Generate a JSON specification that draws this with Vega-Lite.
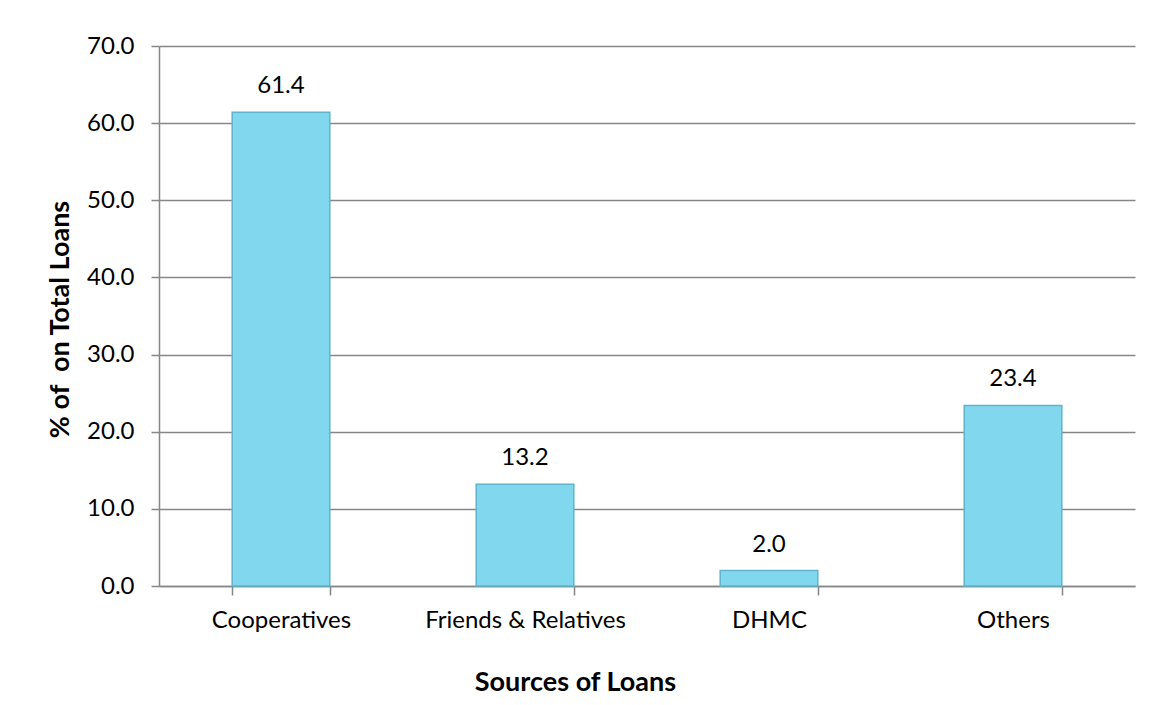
{
  "$schema": "https://vega.github.io/schema/vega-lite/v6.json",
  "autosize": {"type": "none"},
  "padding": {"left": 159, "top": 46, "right": 16, "bottom": 119},
  "width": 976,
  "height": 540,
  "background": "white",
  "data": {
    "values": [
      {"source": "Cooperatives", "pct": 61.4},
      {"source": "Friends & Relatives", "pct": 13.2},
      {"source": "DHMC", "pct": 2.0},
      {"source": "Others", "pct": 23.4}
    ]
  },
  "config": {
    "view": {"stroke": null},
    "font": "Lato"
  },
  "encoding": {
    "x": {
      "field": "source",
      "type": "nominal",
      "sort": null,
      "scale": {"paddingInner": 0.6, "paddingOuter": 0.3},
      "axis": {
        "title": "Sources of Loans",
        "titleFont": "Lato",
        "titleFontSize": 27,
        "titleFontWeight": "bold",
        "titleColor": "black",
        "titleX": 416,
        "titleY": 96,
        "titleBaseline": "middle",
        "titleAlign": "center",
        "labelAngle": 0,
        "labelFont": "Lato",
        "labelFontSize": 24,
        "labelColor": "black",
        "labelPadding": 13,
        "labelLimit": 0,
        "tickBand": "extent",
        "tickSize": 9,
        "tickColor": "#868686",
        "tickWidth": 1.5,
        "domainColor": "#868686",
        "domainWidth": 1.5,
        "grid": false
      }
    },
    "y": {
      "field": "pct",
      "type": "quantitative",
      "scale": {"domain": [0, 70], "nice": false},
      "axis": {
        "title": "% of\u00a0 on Total Loans",
        "titleFont": "Lato",
        "titleFontSize": 27,
        "titleFontWeight": "bold",
        "titleColor": "black",
        "titleX": -99,
        "titleY": 273,
        "titleBaseline": "middle",
        "titleAlign": "center",
        "titleAngle": 270,
        "values": [0, 10, 20, 30, 40, 50, 60, 70],
        "format": ".1f",
        "labelFont": "Lato",
        "labelFontSize": 24,
        "labelColor": "black",
        "labelPadding": 17,
        "tickSize": 8,
        "tickColor": "#868686",
        "tickWidth": 1.5,
        "domainColor": "#868686",
        "domainWidth": 1.5,
        "grid": true,
        "gridColor": "#868686",
        "gridWidth": 1.5
      }
    }
  },
  "layer": [
    {
      "mark": {"type": "bar", "fill": "#80d7ee", "stroke": "#5fb4cb", "strokeWidth": 1.5}
    },
    {
      "mark": {"type": "text", "baseline": "bottom", "dy": -14, "fontSize": 24, "font": "Lato", "color": "black"},
      "encoding": {
        "text": {"field": "pct", "type": "quantitative", "format": ".1f"}
      }
    }
  ]
}
